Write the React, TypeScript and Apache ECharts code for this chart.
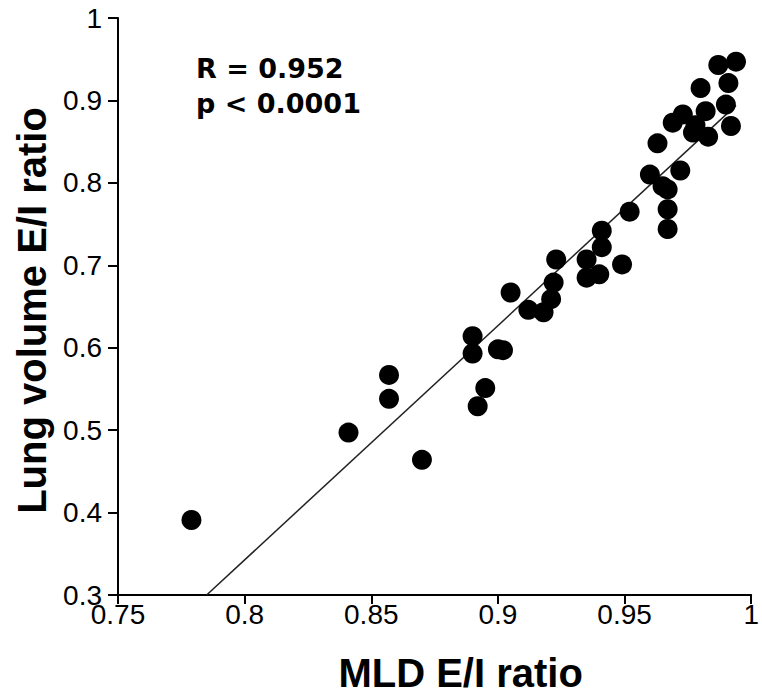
import React, { useEffect, useRef } from "react";
import * as echarts from "echarts";

const mldRatio = [
  0.779, 0.841, 0.857, 0.857, 0.870, 0.890, 0.890, 0.892, 0.895, 0.900,
  0.902, 0.905, 0.912, 0.918, 0.921, 0.922, 0.923, 0.935, 0.935, 0.940,
  0.941, 0.941, 0.949, 0.952, 0.960, 0.963, 0.965, 0.967, 0.967, 0.967,
  0.969, 0.972, 0.973, 0.977, 0.978, 0.980, 0.982, 0.983, 0.987, 0.990,
  0.991, 0.992, 0.994,
];
const lungVolumeRatio = [
  0.391, 0.497, 0.567, 0.538, 0.464, 0.614, 0.593, 0.529, 0.551, 0.598,
  0.597, 0.667, 0.646, 0.643, 0.659, 0.679, 0.707, 0.707, 0.685, 0.689,
  0.742, 0.722, 0.701, 0.765, 0.810, 0.848, 0.796, 0.792, 0.768, 0.744,
  0.873, 0.815, 0.883, 0.861, 0.870, 0.915, 0.887, 0.856, 0.943, 0.895,
  0.921, 0.869, 0.947,
];
const fitX = [0.785, 0.994];
const fitY = [0.3, 0.894];
const statLines = ["R = 0.952", "p < 0.0001"];
const xTitle = "MLD E/I ratio";
const yTitle = "Lung volume E/I ratio";

const fmt = (v: number) => String(parseFloat(v.toFixed(2)));

export default function App() {
  const ref = useRef<HTMLDivElement>(null);
  useEffect(() => {
    if (!ref.current) return;
    const chart = echarts.init(ref.current, null, { renderer: "svg" });
    const axisLine = { show: true, lineStyle: { color: "#000", width: 2 } };
    chart.setOption({
      animation: false,
      backgroundColor: "#fff",
      grid: { left: 118, right: 6, top: 18, bottom: 101 },
      xAxis: {
        type: "value",
        min: 0.75,
        max: 1,
        interval: 0.05,
        splitLine: { show: false },
        axisLine,
        axisTick: { show: true, length: 9, lineStyle: { color: "#000", width: 2 } },
        axisLabel: {
          color: "#000",
          fontFamily: "Liberation Sans, Arial, sans-serif",
          fontSize: 28,
          margin: 5,
          formatter: fmt,
        },
        name: xTitle,
        nameLocation: "middle",
        nameGap: 58,
        nameTextStyle: {
          color: "#000",
          fontFamily: "Liberation Sans, Arial, sans-serif",
          fontWeight: "bold",
          fontSize: 40,
          padding: [0, 0, 0, 52],
        },
      },
      yAxis: {
        type: "value",
        min: 0.3,
        max: 1,
        interval: 0.1,
        splitLine: { show: false },
        axisLine,
        axisTick: { show: true, length: 10, lineStyle: { color: "#000", width: 2 } },
        axisLabel: {
          color: "#000",
          fontFamily: "Liberation Sans, Arial, sans-serif",
          fontSize: 28,
          margin: 16,
          formatter: fmt,
        },
        name: yTitle,
        nameLocation: "middle",
        nameGap: 60,
        nameTextStyle: {
          color: "#000",
          fontFamily: "Liberation Sans, Arial, sans-serif",
          fontWeight: "bold",
          fontSize: 40,
          padding: [0, 8, 0, 0],
        },
      },
      graphic: statLines.map((t, i) => ({
        type: "text",
        left: 196,
        top: 55 + i * 35,
        style: {
          text: t,
          fill: "#000",
          font: "bold 27px 'DejaVu Sans', sans-serif",
        },
      })),
      series: [
        {
          type: "line",
          data: fitX.map((x, i) => [x, fitY[i]]),
          symbol: "none",
          lineStyle: { color: "#222", width: 1.5 },
          z: 1,
        },
        {
          type: "scatter",
          data: mldRatio.map((x, i) => [x, lungVolumeRatio[i]]),
          symbol: "circle",
          symbolSize: 20,
          itemStyle: { color: "#000", opacity: 1 },
          z: 2,
        },
      ],
    });
    return () => chart.dispose();
  }, []);
  return <div ref={ref} style={{ width: 762, height: 698, position: "absolute", left: 0, top: 0 }} />;
}
